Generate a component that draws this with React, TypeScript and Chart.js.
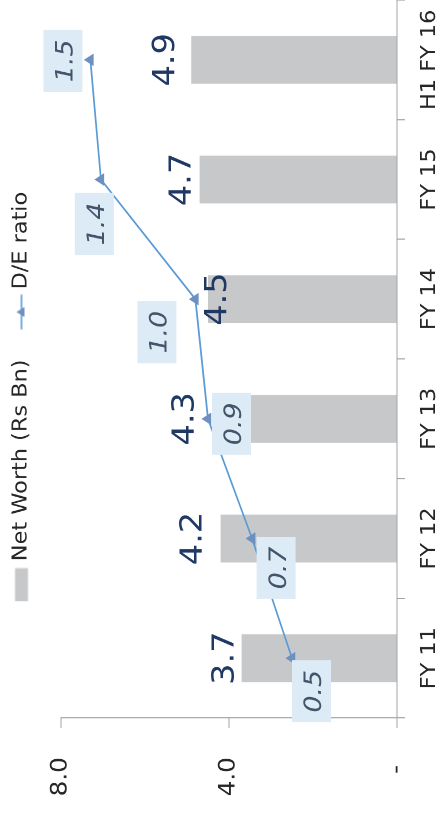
import React, { useEffect, useRef } from "react";
import { Chart, registerables } from "chart.js";

Chart.register(...registerables);

// ---------------- data ----------------
const categories = ["FY 11", "FY 12", "FY 13", "FY 14", "FY 15", "H1 FY 16"];
const netWorth = [3.7, 4.2, 4.3, 4.5, 4.7, 4.9];
const deRatio = [0.5, 0.69, 0.9, 0.96, 1.41, 1.46];
const valueTicks = [0, 4, 8];
const seriesNames = ["Net Worth (Rs Bn)", "D/E ratio"];

// ---------------- layout / style ----------------
const OUT_W = 813; // chart's long side (drawn rotated)
const OUT_H = 442;
const LW = 726; // logical canvas width before horizontal stretch
const STRETCH = OUT_W / LW;
const FONT = "'DejaVu Sans', 'Open Sans', sans-serif";
const BAR_COLOR = "#C7C8CA";
const LINE_COLOR = "#5B9BD5";
const MARKER_COLOR = "#6D90C0";
const AXIS_COLOR = "#A6A6A6";
const TEXT_COLOR = "#262626";
const BAR_LABEL_COLOR = "#1F3864";
const DE_LABEL_COLOR = "#44546A";
const DE_BOX_COLOR = "#DDEBF7";
const barLabelGap = [8, 19, 23, -18, 9, 17];
const deLabelShift: [number, number][] = [
  [-29.5, 19.5],
  [-26.3, 24],
  [-4.5, 23.5],
  [-29.5, -38.5],
  [-39.7, -6.5],
  [-0.9, -27.5],
];

function makeKey(draw: (ctx: CanvasRenderingContext2D) => void) {
  const c = document.createElement("canvas");
  c.width = 60;
  c.height = 16;
  const ctx = c.getContext("2d")!;
  draw(ctx);
  return c;
}

const labelPlugin = {
  id: "valueLabels",
  afterDatasetsDraw(chart: any) {
    const ctx = chart.ctx as CanvasRenderingContext2D;
    ctx.save();
    const barMeta = chart.getDatasetMeta(0);
    const barData = chart.data.datasets[0].data as number[];
    ctx.font = `30px ${FONT}`;
    ctx.fillStyle = BAR_LABEL_COLOR;
    ctx.textAlign = "center";
    ctx.textBaseline = "alphabetic";
    barMeta.data.forEach((el: any, i: number) => {
      ctx.fillText(barData[i].toFixed(1), el.x, el.y - barLabelGap[i]);
    });

    const lineMeta = chart.getDatasetMeta(1);
    const lineData = chart.data.datasets[1].data as number[];
    const fs = 24;
    ctx.font = `italic ${fs}px ${FONT}`;
    lineMeta.data.forEach((el: any, i: number) => {
      const cx = el.x + deLabelShift[i][0];
      const cy = el.y + deLabelShift[i][1];
      const bw = 55.4;
      const bh = 39;
      ctx.fillStyle = DE_BOX_COLOR;
      ctx.fillRect(cx - bw / 2, cy - bh / 2, bw, bh);
      ctx.fillStyle = DE_LABEL_COLOR;
      ctx.fillText((Math.round(lineData[i] * 10) / 10).toFixed(1), cx, cy + 0.729 * fs * 0.5 + 1);
    });
    ctx.restore();
  },
};

export default function App() {
  const ref = useRef<HTMLCanvasElement>(null);

  useEffect(() => {
    const barKey = makeKey((ctx) => {
      ctx.fillStyle = BAR_COLOR;
      ctx.fillRect(26, 1.5, 29.5, 13);
    });
    const lineKey = makeKey((ctx) => {
      ctx.strokeStyle = LINE_COLOR;
      ctx.lineWidth = 1.6;
      ctx.beginPath();
      ctx.moveTo(26.1, 8);
      ctx.lineTo(57.3, 8);
      ctx.stroke();
      const cx = 41.7;
      const r = 5;
      ctx.fillStyle = MARKER_COLOR;
      ctx.beginPath();
      ctx.moveTo(cx, 8 - r);
      ctx.lineTo(cx + r * 0.9, 8 + r * 0.6);
      ctx.lineTo(cx - r * 0.9, 8 + r * 0.6);
      ctx.closePath();
      ctx.fill();
    });
    const keys = [barKey, lineKey];

    const chart = new Chart(ref.current!, {
      data: {
        labels: categories,
        datasets: [
          {
            type: "bar",
            label: seriesNames[0],
            data: netWorth,
            backgroundColor: BAR_COLOR,
            borderWidth: 0,
            barPercentage: 0.5,
            categoryPercentage: 0.8,
            yAxisID: "y",
            order: 1,
          },
          {
            type: "line",
            label: seriesNames[1],
            data: deRatio,
            borderColor: LINE_COLOR,
            borderWidth: 1.7,
            tension: 0,
            pointStyle: "triangle",
            pointRadius: 5.5,
            pointBackgroundColor: MARKER_COLOR,
            pointBorderColor: MARKER_COLOR,
            pointBorderWidth: 1,
            yAxisID: "y1",
            order: 0,
            clip: false,
          },
        ],
      } as any,
      options: {
        responsive: false,
        animation: false,
        devicePixelRatio: 2,
        layout: { autoPadding: false, padding: { top: 2.6, left: 0, right: 0, bottom: 0 } },
        plugins: {
          tooltip: { enabled: false },
          title: {
            display: true,
            text: "",
            padding: 0,
            weight: 500,
            font: { size: 19.5, lineHeight: 1 },
          } as any,
          legend: {
            position: "top",
            align: "center",
            labels: {
              usePointStyle: true,
              pointStyleWidth: 43.6,
              boxHeight: 13,
              padding: 8.9,
              color: TEXT_COLOR,
              font: { family: FONT, size: 20 },
              sort: (a: any, b: any) => a.datasetIndex - b.datasetIndex,
              generateLabels: (ch: any) => {
                const items = (Chart.defaults.plugins.legend.labels as any).generateLabels(ch);
                items.forEach((it: any) => {
                  it.pointStyle = keys[it.datasetIndex];
                });
                return items;
              },
            },
          },
        },
        scales: {
          x: {
            type: "category",
            offset: true,
            grid: {
              offset: true,
              drawOnChartArea: false,
              tickLength: 8,
              color: AXIS_COLOR,
              lineWidth: 1,
            },
            border: { color: AXIS_COLOR, width: 1 },
            ticks: {
              color: TEXT_COLOR,
              font: { family: FONT, size: 20 },
              padding: 13,
              maxRotation: 0,
              autoSkip: false,
            },
            afterFit: (s: any) => {
              s.height = 45;
              s.paddingLeft = 0;
              s.paddingRight = 0;
            },
          },
          y: {
            position: "left",
            min: valueTicks[0],
            max: valueTicks[valueTicks.length - 1],
            afterBuildTicks: (s: any) => {
              s.ticks = valueTicks.map((v) => ({ value: v }));
            },
            ticks: {
              color: TEXT_COLOR,
              font: { family: FONT, size: 22 },
              padding: 26,
              callback: (v: any) => (Number(v) === 0 ? "- " : Number(v).toFixed(1)),
            },
            grid: {
              drawOnChartArea: false,
              tickLength: 8.9,
              color: AXIS_COLOR,
              lineWidth: 1,
            },
            border: { color: AXIS_COLOR, width: 1 },
            afterFit: (s: any) => {
              s.width = 84.8;
              s.paddingTop = 0;
              s.paddingBottom = 0;
            },
          },
          y1: {
            display: false,
            min: 0,
            max: 1.6,
          },
        },
      } as any,
      plugins: [labelPlugin],
    });
    return () => chart.destroy();
  }, []);

  return (
    <div
      style={{
        position: "fixed",
        left: 0,
        top: 0,
        width: OUT_H,
        height: OUT_W,
        overflow: "hidden",
        background: "#fff",
      }}
    >
      <div
        style={{
          position: "absolute",
          left: 0,
          top: 0,
          width: LW,
          height: OUT_H,
          transformOrigin: "0 0",
          transform: `translate(0px, ${OUT_W}px) rotate(-90deg) scale(${STRETCH}, 1)`,
        }}
      >
        <canvas
          ref={ref}
          width={LW}
          height={OUT_H}
          style={{ display: "block", width: LW, height: OUT_H }}
        />
      </div>
    </div>
  );
}
